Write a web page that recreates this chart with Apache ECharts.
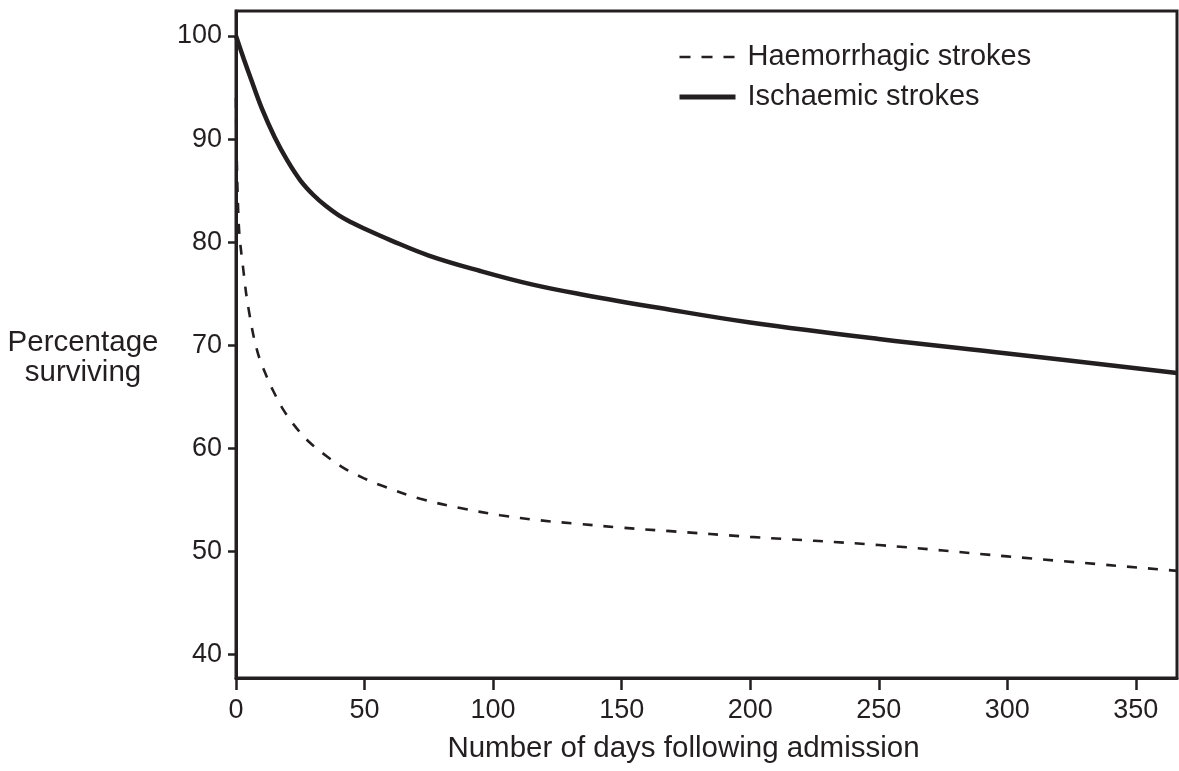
<!DOCTYPE html>
<html>
<head>
<meta charset="utf-8">
<script src="https://cdn.jsdelivr.net/npm/echarts@6/dist/echarts.min.js"></script>
<style>
html,body{margin:0;padding:0;background:#fff;}
#chart{width:1179px;height:771px;}
</style>
</head>
<body>
<div id="chart"></div>
<script>
// Ischaemic strokes (solid)
const ischDays = [0, 3, 6, 10, 15, 20, 25, 30, 35, 40, 45, 50, 60, 75, 95, 115, 135, 165, 200, 250, 300, 366];
const ischVals = [100, 97.8, 95.7, 93.0, 90.2, 87.9, 86.0, 84.6, 83.5, 82.6, 81.9, 81.3, 80.2, 78.7, 77.2, 75.9, 74.9, 73.6, 72.2, 70.6, 69.2, 67.3];
// Haemorrhagic strokes (dashed)
const haemDays = [0, 1, 3, 4.9, 8.2, 12, 14.6, 18.5, 23.7, 28.9, 35.4, 41.8, 49.6, 57.4, 71.7, 87.2, 102.8, 118.3, 133.9, 149.4, 168.9, 200, 250, 300, 366];
const haemVals = [94, 82.1, 77.0, 73.5, 69.5, 66.9, 65.5, 63.7, 61.9, 60.5, 59.2, 58.1, 57.1, 56.3, 55.1, 54.2, 53.5, 53.0, 52.65, 52.3, 51.95, 51.4, 50.6, 49.5, 48.1];
const xTicks = [0, 50, 100, 150, 200, 250, 300, 350];
const yTicks = [40, 50, 60, 70, 80, 90, 100];
const seriesNames = ['Haemorrhagic strokes', 'Ischaemic strokes'];
const xTitle = 'Number of days following admission';
const yTitle = 'Percentage\nsurviving';

const ink = '#231f20';
const font = 'Liberation Sans, Arial, sans-serif';

const chart = echarts.init(document.getElementById('chart'));
chart.setOption({
  animation: false,
  backgroundColor: '#fff',
  grid: {
    left: 236, right: 2, top: 11, bottom: 93,
    outerBoundsMode: 'none', containLabel: false,
    show: true, borderColor: ink, borderWidth: 3, backgroundColor: 'transparent'
  },
  legend: {
    orient: 'vertical',
    left: 672, top: 37,
    itemWidth: 56, itemHeight: 14, itemGap: 10,
    itemStyle: { color: 'transparent', borderWidth: 0, opacity: 0 },
    textStyle: { fontFamily: font, fontSize: 29, color: ink, lineHeight: 30, padding: [0, 0, 0, 7] },
    data: [
      { name: seriesNames[0], lineStyle: { width: 2.6, type: [11, 11] } },
      { name: seriesNames[1], lineStyle: { width: 5 } }
    ]
  },
  graphic: [{
    type: 'text', x: 83, y: 357.5,
    style: { text: yTitle, fontFamily: font, fontSize: 29.5, fill: ink, align: 'center', verticalAlign: 'middle', lineHeight: 30 }
  }],
  xAxis: {
    type: 'value', min: 0, max: 366,
    name: xTitle,
    nameLocation: 'middle', nameGap: 56,
    nameTextStyle: { fontFamily: font, fontSize: 29.5, color: ink, padding: [0, 46, 0, 0] },
    axisLine: { show: true, onZero: false, lineStyle: { color: ink, width: 3 } },
    axisTick: { show: true, length: 12, lineStyle: { color: ink, width: 2.5 }, customValues: xTicks },
    axisLabel: { fontFamily: font, fontSize: 27, color: ink, margin: 19, customValues: xTicks },
    splitLine: { show: false }
  },
  yAxis: {
    type: 'value', min: 37.7, max: 102.43,
    axisLine: { show: true, onZero: false, lineStyle: { color: ink, width: 3 } },
    axisTick: { show: true, length: 8, lineStyle: { color: ink, width: 2.5 }, customValues: yTicks },
    axisLabel: { fontFamily: font, fontSize: 27, color: ink, margin: 14, customValues: yTicks },
    splitLine: { show: false }
  },
  series: [
    {
      name: seriesNames[0], type: 'line', smooth: 0.4, symbol: 'none',
      lineStyle: { color: ink, width: 2.6, type: [10, 11] },
      itemStyle: { color: ink },
      data: haemDays.map((d, i) => [d, haemVals[i]])
    },
    {
      name: seriesNames[1], type: 'line', smooth: 0.4, symbol: 'none',
      lineStyle: { color: ink, width: 4.5 },
      itemStyle: { color: ink },
      data: ischDays.map((d, i) => [d, ischVals[i]])
    }
  ]
});
</script>
</body>
</html>
